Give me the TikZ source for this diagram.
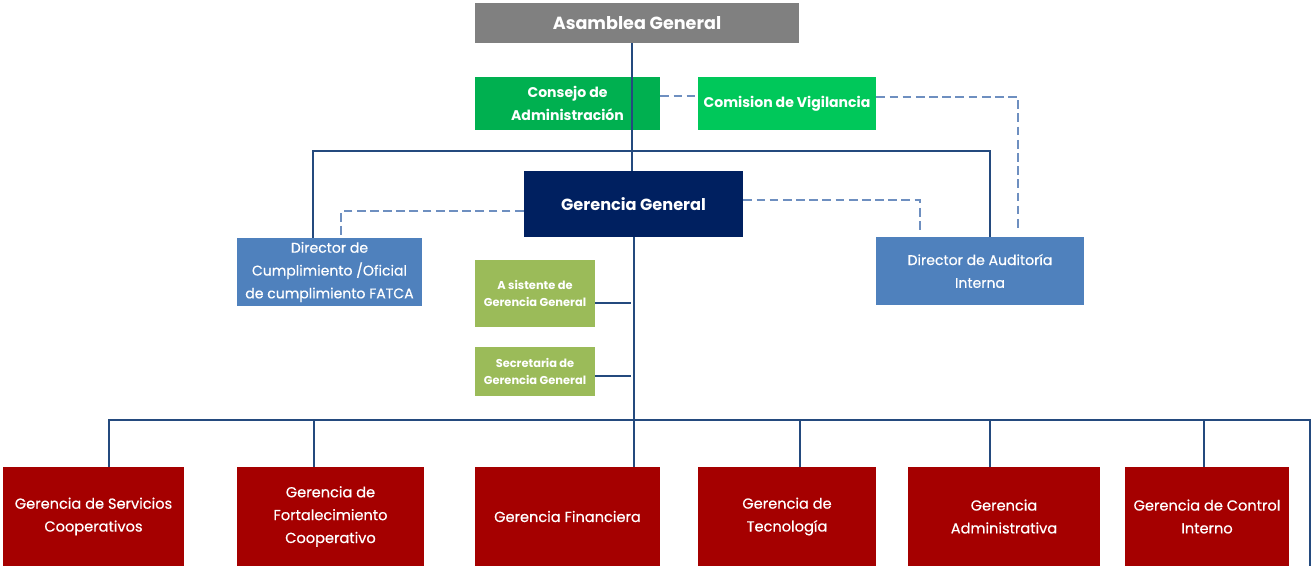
\documentclass[tikz,border=0pt]{standalone}
\usepackage{fontspec}
\setmainfont{Poppins}
\newfontfamily\medio[FakeBold=0.5]{Poppins}
\usetikzlibrary{positioning}

\definecolor{gris}{HTML}{808080}
\definecolor{verde}{HTML}{00B050}
\definecolor{verdeclaro}{HTML}{00C85A}
\definecolor{marino}{HTML}{002060}
\definecolor{azul}{HTML}{4F81BD}
\definecolor{oliva}{HTML}{9BBB59}
\definecolor{rojo}{HTML}{A50000}
\definecolor{linea}{HTML}{244A7E}
\definecolor{punteada}{HTML}{6E8FC0}

\begin{document}
\begin{tikzpicture}[x=0.02cm, y=-0.02cm,
  caja/.style={inner sep=0pt, align=center, text=white, font=\small},
  linea/.style={draw=linea, line width=1.6pt},
  punto/.style={draw=punteada, line width=1.5pt, dash pattern=on 5pt off 2.5pt},
  gerencia/.style={caja, fill=rojo, minimum height=1.98cm, font=\medio\fontsize{8.3}{13}\selectfont}]
  \useasboundingbox (0, 0) rectangle (1313, 566);

  % cuerpo directivo
  \node[caja, fill=gris, minimum width=6.48cm, minimum height=0.8cm, font=\normalsize\bfseries] (asamblea) at (637, 23) {Asamblea General};
  \node[caja, fill=verde, minimum width=3.7cm, minimum height=1.06cm, font=\fontsize{8}{13}\selectfont\bfseries] (consejo) at (567.5, 103.5) {Consejo de\\Administración};
  \node[caja, fill=verdeclaro, minimum width=3.56cm, minimum height=1.06cm, font=\footnotesize\bfseries] (vigilancia) at (787, 103.5) {Comision de Vigilancia};
  \node[caja, fill=marino, minimum width=4.38cm, minimum height=1.32cm, font=\fontsize{9.2}{11}\selectfont\bfseries] (general) at (633.5, 204) {Gerencia General};

  % directores
  \node[caja, fill=azul, minimum width=3.7cm, minimum height=1.36cm, font=\medio\fontsize{8}{13}\selectfont] (cumplimiento) at (329.5, 272) {Director de\\Cumplimiento /Oficial\\de cumplimiento FATCA};
  \node[caja, fill=azul, minimum width=4.16cm, minimum height=1.36cm, font=\medio\fontsize{8}{13}\selectfont] (auditoria) at (980, 271) {Director de Auditoría\\Interna};

  % staff
  \node[caja, fill=oliva, minimum width=2.4cm, minimum height=1.34cm, font=\fontsize{6.5}{9.5}\selectfont\bfseries] (asistente) at (535, 293.5) {A sistente de\\Gerencia General};
  \node[caja, fill=oliva, minimum width=2.4cm, minimum height=0.98cm, font=\fontsize{6.5}{9.5}\selectfont\bfseries] (secretaria) at (535, 371.5) {Secretaria de\\Gerencia General};

  % gerencias
  \node[gerencia, minimum width=3.62cm] (servicios) at (93.5, 516.5) {Gerencia de Servicios\\Cooperativos};
  \node[gerencia, minimum width=3.74cm] (fortalecimiento) at (330.5, 516.5) {Gerencia de\\Fortalecimiento\\Cooperativo};
  \node[gerencia, minimum width=3.7cm] (financiera) at (567.5, 516.5) {Gerencia Financiera};
  \node[gerencia, minimum width=3.56cm] (tecnologia) at (787, 516.5) {Gerencia de\\Tecnología};
  \node[gerencia, minimum width=3.84cm] (administrativa) at (1004, 516.5) {Gerencia\\Administrativa};
  \node[gerencia, minimum width=3.28cm] (control) at (1207, 516.5) {Gerencia de Control\\Interno};

  \coordinate (bus) at (634, 420);
  \coordinate (fin) at (1310, 566);

  % lineas de mando
  \draw[linea] (asamblea.south -| 632, 0) -- (general.north -| 632, 0);
  \draw[linea] (cumplimiento.north -| 313, 0) |- (632, 151) -| (auditoria.north -| 990, 0);
  \draw[linea] (general.south -| bus) -- (financiera.north -| bus);
  \draw[linea] (asistente.east |- 0, 303) -- (631, 303);
  \draw[linea] (secretaria.east |- 0, 376) -- (631, 376);
  \draw[linea] (servicios.north -| 109, 0) |- (bus) -| (fin);
  \foreach \x/\n in {314/fortalecimiento, 800/tecnologia, 990/administrativa, 1204/control}
    \draw[linea] (\x, 420) -- (\n.north -| \x, 0);

  % lineas de control
  \draw[punto] (consejo.east |- 0, 96) -- (vigilancia.west |- 0, 96);
  \draw[punto] (vigilancia.east |- 0, 97) -| (1018, 230);
  \draw[punto] (general.west |- 0, 211) -| (cumplimiento.north -| 341, 0);
  \draw[punto] (general.east |- 0, 200) -| (920, 232);
\end{tikzpicture}
\end{document}
